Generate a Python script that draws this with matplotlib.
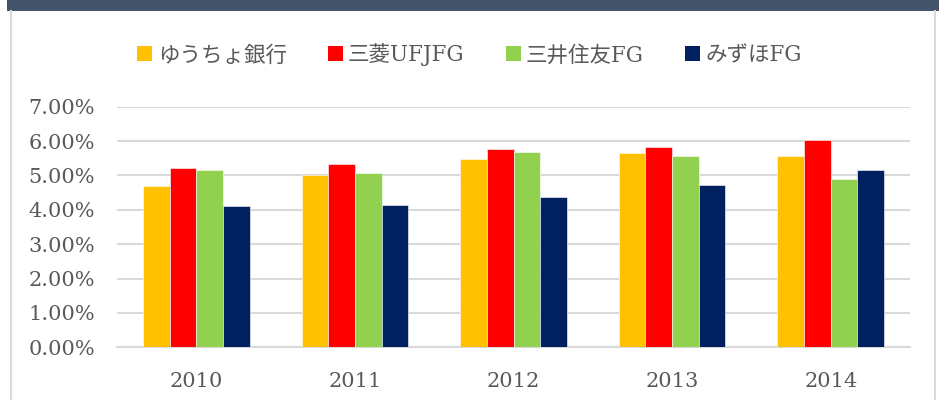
import matplotlib
matplotlib.use("Agg")
import matplotlib.pyplot as plt
import numpy as np
from matplotlib.patches import Rectangle
from matplotlib.lines import Line2D
from matplotlib.ticker import FuncFormatter, MultipleLocator

years = ["2010", "2011", "2012", "2013", "2014"]
series_names = ["ゆうちょ銀行", "三菱UFJFG", "三井住友FG", "みずほFG"]
yucho = [4.69, 5.00, 5.48, 5.65, 5.56]
mufg = [5.22, 5.33, 5.76, 5.83, 6.03]
smfg = [5.17, 5.06, 5.67, 5.56, 4.91]
mizuho = [4.11, 4.14, 4.36, 4.71, 5.15]
colors = ["#FFC000", "#FF0000", "#92D050", "#002060"]

fam = ["DejaVu Serif", "Noto Sans CJK JP"]
txt = "#595959"

fig = plt.figure(figsize=(9.39, 4.0), dpi=100)
W, H = 939, 400
# top band and frame
fig.patches.append(Rectangle((7 / W, 1 - 11 / H), 1 - 7 / W, 11 / H, transform=fig.transFigure,
                             facecolor="#44546A", edgecolor="none", zorder=0))
fig.lines.append(Line2D([11 / W, 11 / W], [0, 1 - 11 / H], transform=fig.transFigure, color="#d9d9d9", lw=1.5))
fig.lines.append(Line2D([935 / W, 935 / W], [0, 1 - 11 / H], transform=fig.transFigure, color="#d9d9d9", lw=1.5))

ax = fig.add_axes([117 / W, 1 - 347.3 / H, (910 - 117) / W, (347.3 - 106.7) / H])
x = np.arange(len(years))
bw = 0.168
data = [yucho, mufg, smfg, mizuho]
for i, (vals, c, n) in enumerate(zip(data, colors, series_names)):
    ax.bar(x + (i - 1.5) * bw, vals, width=bw, color=c, label=n, zorder=3,
           edgecolor="white", linewidth=0.4)

ax.set_xlim(-0.5, len(years) - 0.5)
ax.set_ylim(0, 7)
ax.yaxis.set_major_locator(MultipleLocator(1))
ax.yaxis.set_major_formatter(FuncFormatter(lambda v, p: f"{v:.2f}%"))
ax.grid(axis="y", color="#d9d9d9", lw=1.5, zorder=0)
ax.set_axisbelow(True)
for s in ["top", "right", "left"]:
    ax.spines[s].set_visible(False)
ax.spines["bottom"].set_color("#d9d9d9")
ax.spines["bottom"].set_linewidth(1.5)
ax.set_xticks(x)
ax.set_xticklabels(years)
ax.tick_params(axis="both", length=0, colors=txt, labelsize=15)
ax.tick_params(axis="x", pad=18)
ax.tick_params(axis="y", pad=16)
for lab in ax.get_xticklabels() + ax.get_yticklabels():
    lab.set_fontfamily(fam)
    lab.set_color(txt)

handles = [Rectangle((0, 0), 1, 1, facecolor=c) for c in colors]
leg = fig.legend(handles, series_names, loc="center", bbox_to_anchor=(0.5, 1 - 55 / H), ncol=4,
                 frameon=False, prop={"family": fam, "size": 15.5}, handlelength=0.7,
                 handleheight=0.7, handletextpad=0.25, columnspacing=1.9, labelcolor=txt)

fig.savefig("out.png", dpi=100, facecolor="white")
